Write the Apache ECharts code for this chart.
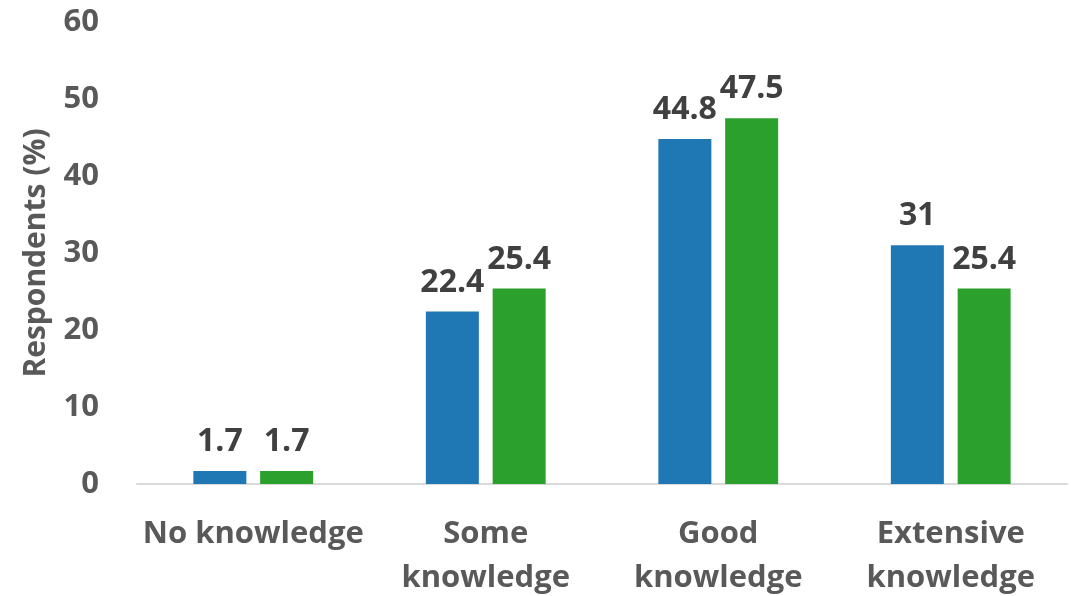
<!DOCTYPE html>
<html>
<head>
<meta charset="utf-8">
<script src="https://cdn.jsdelivr.net/npm/echarts@6/dist/echarts.min.js"></script>
<style>
  html, body { margin: 0; padding: 0; background: #fff; }
  #chart { width: 1071px; height: 596px; }
</style>
</head>
<body>
<div id="chart"></div>
<script>
// Knowledge level categories and the two respondent groups (%)
const categories = ['No knowledge', 'Some\nknowledge', 'Good\nknowledge', 'Extensive\nknowledge'];
const seriesA = [1.7, 22.4, 44.8, 31];
const seriesB = [1.7, 25.4, 47.5, 25.4];
const yTicks = { min: 0, max: 60, interval: 10 };

const FONT = '"Open Sans", "Noto Sans", sans-serif';

const labelStyle = {
  show: true,
  position: 'top',
  distance: 13,
  fontFamily: FONT,
  fontWeight: 'bold',
  fontSize: 32,
  color: '#404040'
};

const chart = echarts.init(document.getElementById('chart'));
chart.setOption({
  animation: false,
  grid: {
    left: 137, right: 4, top: 22, bottom: 112,
    containLabel: false,
    outerBoundsMode: 'none'
  },
  xAxis: {
    type: 'category',
    data: categories,
    axisTick: { show: false },
    axisLine: { lineStyle: { color: '#d9d9d9', width: 2 } },
    axisLabel: {
      fontFamily: FONT,
      fontWeight: 'bold',
      fontSize: 31,
      color: '#595959',
      margin: 28,
      lineHeight: 44,
      interval: 0
    }
  },
  yAxis: {
    type: 'value',
    min: yTicks.min,
    max: yTicks.max,
    interval: yTicks.interval,
    name: 'Respondents (%)',
    nameLocation: 'middle',
    nameGap: 86,
    nameTextStyle: {
      fontFamily: FONT,
      fontWeight: 'bold',
      fontSize: 30,
      color: '#595959'
    },
    axisLine: { show: false },
    axisTick: { show: false },
    splitLine: { show: false },
    axisLabel: {
      fontFamily: FONT,
      fontWeight: 'bold',
      fontSize: 31,
      color: '#595959',
      margin: 38
    }
  },
  series: [
    {
      type: 'bar',
      data: seriesA,
      barWidth: '22.8%',
      barGap: '26%',
      itemStyle: { color: '#1f77b4' },
      label: labelStyle
    },
    {
      type: 'bar',
      data: seriesB,
      barWidth: '22.8%',
      itemStyle: { color: '#2ca02c' },
      label: labelStyle
    }
  ]
});
</script>
</body>
</html>
